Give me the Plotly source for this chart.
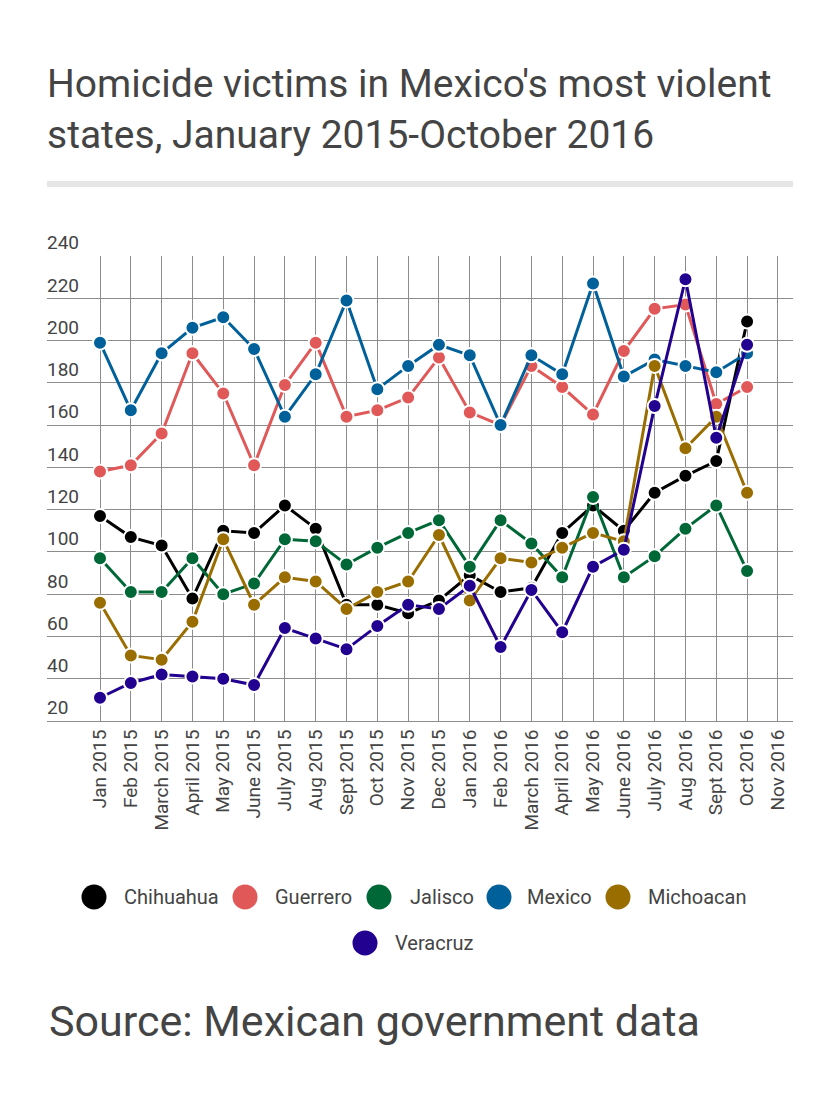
import plotly.graph_objects as go

months = ["Jan 2015", "Feb 2015", "March 2015", "April 2015", "May 2015", "June 2015",
          "July 2015", "Aug 2015", "Sept 2015", "Oct 2015", "Nov 2015", "Dec 2015",
          "Jan 2016", "Feb 2016", "March 2016", "April 2016", "May 2016", "June 2016",
          "July 2016", "Aug 2016", "Sept 2016", "Oct 2016", "Nov 2016"]

chihuahua = [117, 107, 103, 78, 110, 109, 122, 111, 75, 75, 71, 77,
             89, 81, 83, 109, 122, 110, 128, 136, 143, 209]
guerrero = [138, 141, 156, 194, 175, 141, 179, 199, 164, 167, 173, 192,
            166, 160, 188, 178, 165, 195, 215, 217, 170, 178]
jalisco = [97, 81, 81, 97, 80, 85, 106, 105, 94, 102, 109, 115,
           93, 115, 104, 88, 126, 88, 98, 111, 122, 91]
mexico = [199, 167, 194, 206, 211, 196, 164, 184, 219, 177, 188, 198,
          193, 160, 193, 184, 227, 183, 191, 188, 185, 194]
michoacan = [76, 51, 49, 67, 106, 75, 88, 86, 73, 81, 86, 108,
             77, 97, 95, 102, 109, 105, 188, 149, 164, 128]
veracruz = [31, 38, 42, 41, 40, 37, 64, 59, 54, 65, 75, 73,
            84, 55, 82, 62, 93, 101, 169, 229, 154, 198]

series_names = ["Chihuahua", "Guerrero", "Jalisco", "Mexico", "Michoacan", "Veracruz"]
series_values = [chihuahua, guerrero, jalisco, mexico, michoacan, veracruz]
series_colors = ["#000000", "#e05858", "#006837", "#00609a", "#9a6d00", "#220090"]

TEXT = "#444444"
GRID = "#8c8c8c"

# page geometry (pixels)
W, H = 840, 1097
PL, PR, PT, PB = 47, 793, 256, 721
PW, PH = PR - PL, PB - PT


def px_x(px):
    return (px - PL) / PW


def px_y(py):
    return (PB - py) / PH


# legend layout: (marker centre x, text start x, row centre y) in pixels
legend_layout = [(94, 122, 897), (245, 273, 897), (379, 408, 897),
                 (499, 525, 897), (618, 646, 897), (365, 393, 943)]
LEG_R = 12.5

fig = go.Figure()

for name, vals, col in zip(series_names, series_values, series_colors):
    fig.add_trace(go.Scatter(
        x=months[:len(vals)], y=vals, name=name, mode="lines+markers",
        line=dict(color=col, width=3),
        marker=dict(size=14, color=col, line=dict(color="white", width=2)),
        showlegend=False,
    ))

shapes = [dict(type="rect", xref="paper", yref="paper",
               x0=0, x1=1, y0=px_y(187), y1=px_y(181),
               fillcolor="#e6e6e6", line=dict(width=0))]
annotations = [dict(text="Source: Mexican government data", xref="paper", yref="paper",
                    x=0, xanchor="left", y=px_y(1021), yanchor="middle",
                    showarrow=False, font=dict(family="Roboto", size=43, color=TEXT))]

for name, col, (cx, tx, cy) in zip(series_names, series_colors, legend_layout):
    shapes.append(dict(type="circle", xref="paper", yref="paper",
                       x0=px_x(cx - LEG_R), x1=px_x(cx + LEG_R),
                       y0=px_y(cy + LEG_R), y1=px_y(cy - LEG_R),
                       fillcolor=col, line=dict(width=0)))
    annotations.append(dict(text=name, xref="paper", yref="paper",
                            x=px_x(tx), xanchor="left", y=px_y(cy), yanchor="middle",
                            showarrow=False, font=dict(family="Roboto", size=20, color=TEXT)))

fig.update_layout(
    width=W, height=H,
    margin=dict(l=PL, r=W - PR, t=PT, b=H - PB),
    paper_bgcolor="white", plot_bgcolor="white",
    font=dict(family="Roboto", color=TEXT),
    showlegend=False,
    title=dict(
        text="Homicide victims in Mexico's most violent<br>states, January 2015-October 2016",
        font=dict(family="Roboto", size=39, color=TEXT),
        x=47 / W, xanchor="left", xref="container",
        y=1 - 97 / H, yanchor="middle", yref="container",
    ),
    xaxis=dict(
        type="category", categoryorder="array", categoryarray=months,
        range=[-1.72, 22.49],
        showgrid=True, gridcolor=GRID, gridwidth=1,
        showline=True, linecolor=GRID, linewidth=1,
        tickangle=-90, tickfont=dict(family="Roboto", size=19, color=TEXT),
        ticks="", zeroline=False, fixedrange=True,
    ),
    yaxis=dict(
        range=[20, 240], dtick=20, tick0=20,
        showgrid=True, gridcolor=GRID, gridwidth=1,
        showline=False, zeroline=False, ticks="",
        ticklabelposition="inside top", ticklabeloverflow="allow",
        ticklabelstandoff=-3,
        tickfont=dict(family="Roboto", size=19, color=TEXT),
    ),
    shapes=shapes,
    annotations=annotations,
)

fig.write_html("out.html")
